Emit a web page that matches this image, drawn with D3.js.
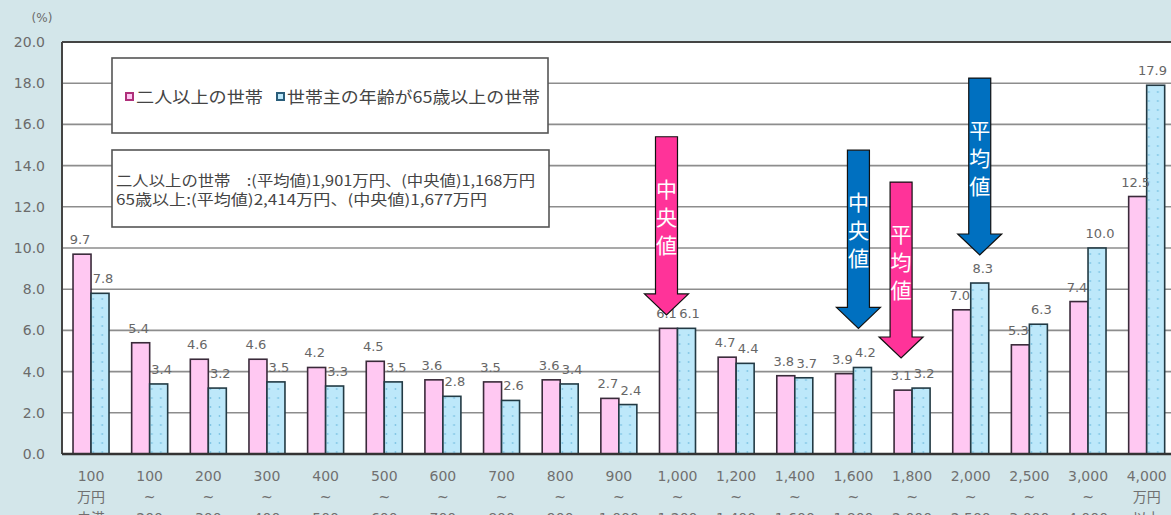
<!DOCTYPE html>
<html>
<head>
<meta charset="utf-8">
<script src="https://cdn.jsdelivr.net/npm/d3@7"></script>
<style>
  html, body { margin: 0; padding: 0; background: #d3e6ea; }
  svg { display: block; font-family: "Noto Sans CJK JP", "Noto Sans", sans-serif; }
</style>
</head>
<body>
<svg id="chart" width="1171" height="515"></svg>
<script>
// Income brackets (万円), three label lines each
const line1 = ["100","100","200","300","400","500","600","700","800","900","1,000","1,200","1,400","1,600","1,800","2,000","2,500","3,000","4,000"];
const line2 = ["万円","~","~","~","~","~","~","~","~","~","~","~","~","~","~","~","~","~","万円"];
const line3 = ["未満","200","300","400","500","600","700","800","900","1,000","1,200","1,400","1,600","1,800","2,000","2,500","3,000","4,000","以上"];

// Share of households (%)
const twoPlus = [9.7,5.4,4.6,4.6,4.2,4.5,3.6,3.5,3.6,2.7,6.1,4.7,3.8,3.9,3.1,7.0,5.3,7.4,12.5];
const senior  = [7.8,3.4,3.2,3.5,3.3,3.5,2.8,2.6,3.4,2.4,6.1,4.4,3.7,4.2,3.2,8.3,6.3,10.0,17.9];

const seriesNames = ["二人以上の世帯", "世帯主の年齢が65歳以上の世帯"];
const summaryLines = ["二人以上の世帯　:(平均値)1,901万円、(中央値)1,168万円", "65歳以上:(平均値)2,414万円、(中央値)1,677万円"];
const yTicks = [0,2,4,6,8,10,12,14,16,18,20];

// Mean / median markers: bracket index, series, arrow span in % units
const markerLabels = ["中央値", "中央値", "平均値", "平均値"];
const markerCats   = [10, 13, 14, 15];
const markerSeries = [0, 1, 0, 1];
const markerTop    = [15.4, 14.75, 13.2, 18.25];
const markerTip    = [6.75, 6.1, 4.66, 9.66];
const markerShift  = [-2, -4, -2, 0];

const categories = line1.map((d, i) => i);

const width = 1171;
const svg = d3.select("#chart");
const colors = { pink: "#ffc8f2", blue: "#bde8fa", pinkArrow: "#ff3399", blueArrow: "#0070c0" };
const numFont = "'DejaVu Sans', sans-serif";

const plotLeft = 62, plotRight = 1176, plotTop = 42, plotBottom = 454;

const x0 = d3.scaleBand().domain(categories).range([plotLeft - 0.3, plotRight]).padding(0);
const x1 = d3.scaleBand().domain([0, 1]).range([x0.bandwidth() / 2 - 18, x0.bandwidth() / 2 + 18]);
const y = d3.scaleLinear().domain([0, 20]).range([plotBottom, plotTop]);

// dotted fill for the senior series
const defs = svg.append("defs");
const pat = defs.append("pattern").attr("id", "dots")
  .attr("patternUnits", "userSpaceOnUse").attr("width", 9).attr("height", 9);
pat.append("rect").attr("width", 9).attr("height", 9).attr("fill", colors.blue);
pat.append("circle").attr("cx", 4.5).attr("cy", 2).attr("r", 0.9).attr("fill", "#7cc3e3");

// plot area
svg.append("rect").attr("x", plotLeft).attr("y", plotTop)
  .attr("width", width - plotLeft).attr("height", plotBottom - plotTop).attr("fill", "#fff");

// gridlines
svg.append("g").selectAll("line").data(yTicks.filter(t => t > 0 && t < 20)).join("line")
  .attr("x1", plotLeft).attr("x2", width)
  .attr("y1", d => y(d)).attr("y2", d => y(d))
  .attr("stroke", "#8d8d8d").attr("stroke-width", 1.6);

// y axis
const yAxis = d3.axisLeft(y).tickValues(yTicks).tickFormat(d3.format(".1f")).tickSize(0).tickPadding(17);
const yg = svg.append("g").attr("transform", `translate(${plotLeft},0)`).call(yAxis);
yg.select(".domain").remove();
yg.selectAll("text").attr("fill", "#6b6b6b").style("font-size", "14px").style("font-family", numFont);

svg.append("text").attr("x", 42).attr("y", 22).attr("text-anchor", "middle")
  .attr("fill", "#6b6b6b").style("font-size", "12px").style("font-family", numFont).text("(%)");

// frame
svg.append("line").attr("x1", plotLeft).attr("x2", width).attr("y1", plotTop).attr("y2", plotTop)
  .attr("stroke", "#444").attr("stroke-width", 2);
svg.append("line").attr("x1", plotLeft).attr("x2", plotLeft).attr("y1", plotTop).attr("y2", plotBottom)
  .attr("stroke", "#444").attr("stroke-width", 2);

// legend boxes
const legend = svg.append("g");
legend.append("rect").attr("x", 112).attr("y", 58).attr("width", 436).attr("height", 75)
  .attr("fill", "#fff").attr("stroke", "#555").attr("stroke-width", 1.6);
const legItems = [
  { x: 126, fill: colors.pink, stroke: "#b0307a", len: 127 },
  { x: 277, fill: colors.blue, stroke: "#2a5d7a", len: 253 }
];
legItems.forEach((it, i) => {
  legend.append("rect").attr("x", it.x).attr("y", 93).attr("width", 7).attr("height", 7)
    .attr("fill", it.fill).attr("stroke", it.stroke).attr("stroke-width", 2);
  legend.append("text").attr("x", it.x + 10).attr("y", 102.5).attr("fill", "#444")
    .style("font-size", "16px").attr("textLength", it.len).attr("lengthAdjust", "spacingAndGlyphs")
    .text(seriesNames[i]);
});
legend.append("rect").attr("x", 112).attr("y", 150).attr("width", 437).attr("height", 77)
  .attr("fill", "#fff").attr("stroke", "#555").attr("stroke-width", 1.6);
[419, 371].forEach((len, k) => {
  legend.append("text").attr("x", 116).attr("y", 186 + k * 19).attr("fill", "#444").style("font-size", "14.5px")
    .attr("textLength", len).attr("lengthAdjust", "spacingAndGlyphs")
    .text(summaryLines[k]);
});

// bars
const rows = categories.map(i => ({ i, vals: [twoPlus[i], senior[i]] }));
const groups = svg.append("g").selectAll("g").data(rows).join("g")
  .attr("transform", d => `translate(${x0(d.i)},0)`);
groups.selectAll("rect").data(d => d.vals.map((v, s) => ({ v, s }))).join("rect")
  .attr("x", d => x1(d.s)).attr("width", x1.bandwidth())
  .attr("y", d => y(d.v)).attr("height", d => plotBottom - y(d.v))
  .attr("fill", d => d.s === 0 ? colors.pink : "url(#dots)")
  .attr("stroke", d => d.s === 0 ? "#3a2a3a" : "#223a44").attr("stroke-width", 1.6);

// value labels (kept inside the right edge)
groups.each(function(row) {
  const g = d3.select(this);
  row.vals.forEach((v, s) => {
    const t = g.append("text")
      .attr("y", y(v) - 10)
      .attr("text-anchor", "middle").attr("fill", "#666")
      .style("font-size", "13px").style("font-family", numFont)
      .text(d3.format(".1f")(v));
    const half = t.node().getComputedTextLength() / 2;
    let cx = x1(s) + x1.bandwidth() / 2 + (s === 0 ? -2 : 3);
    const limit = width - 4 - half - x0(row.i);
    t.attr("x", Math.min(cx, limit));
  });
});

// x axis baseline
svg.append("line").attr("x1", plotLeft).attr("x2", width).attr("y1", plotBottom).attr("y2", plotBottom)
  .attr("stroke", "#333").attr("stroke-width", 2.5);

// category labels
const xl = svg.append("g").selectAll("text").data(categories).join("text")
  .attr("x", i => x0(i) + x0.bandwidth() / 2)
  .attr("text-anchor", "middle").attr("fill", "#707070")
  .style("font-size", "14px").style("font-family", "'DejaVu Sans', 'Noto Sans CJK JP', sans-serif");
[line1, line2, line3].forEach((arr, k) => {
  xl.append("tspan").attr("x", i => x0(i) + x0.bandwidth() / 2).attr("y", 481 + k * 21)
    .text(i => arr[i]);
});

// mean / median arrows
const arrows = svg.append("g").selectAll("g").data(markerLabels.map((t, k) => k)).join("g");
const arrowX = k => x0(markerCats[k]) + x1(markerSeries[k]) + x1.bandwidth() / 2 + markerShift[k];
arrows.append("path")
  .attr("d", k => {
    const cx = arrowX(k);
    const top = y(markerTop[k]), tip = y(markerTip[k]);
    const headStart = tip - 21, sw = 11, hw = 22;
    return `M${cx - sw},${top}H${cx + sw}V${headStart}H${cx + hw}L${cx},${tip}L${cx - hw},${headStart}H${cx - sw}Z`;
  })
  .attr("fill", k => markerSeries[k] === 0 ? colors.pinkArrow : colors.blueArrow)
  .attr("stroke", "#111").attr("stroke-width", 1.2);
arrows.append("text")
  .attr("text-anchor", "middle").attr("fill", "#fff").style("font-size", "21px")
  .each(function(k) {
    const cx = arrowX(k), top = y(markerTop[k]);
    Array.from(markerLabels[k]).forEach((ch, j) => {
      d3.select(this).append("tspan").attr("x", cx).attr("y", top + 60 + j * 28).text(ch);
    });
  });
</script>
</body>
</html>
